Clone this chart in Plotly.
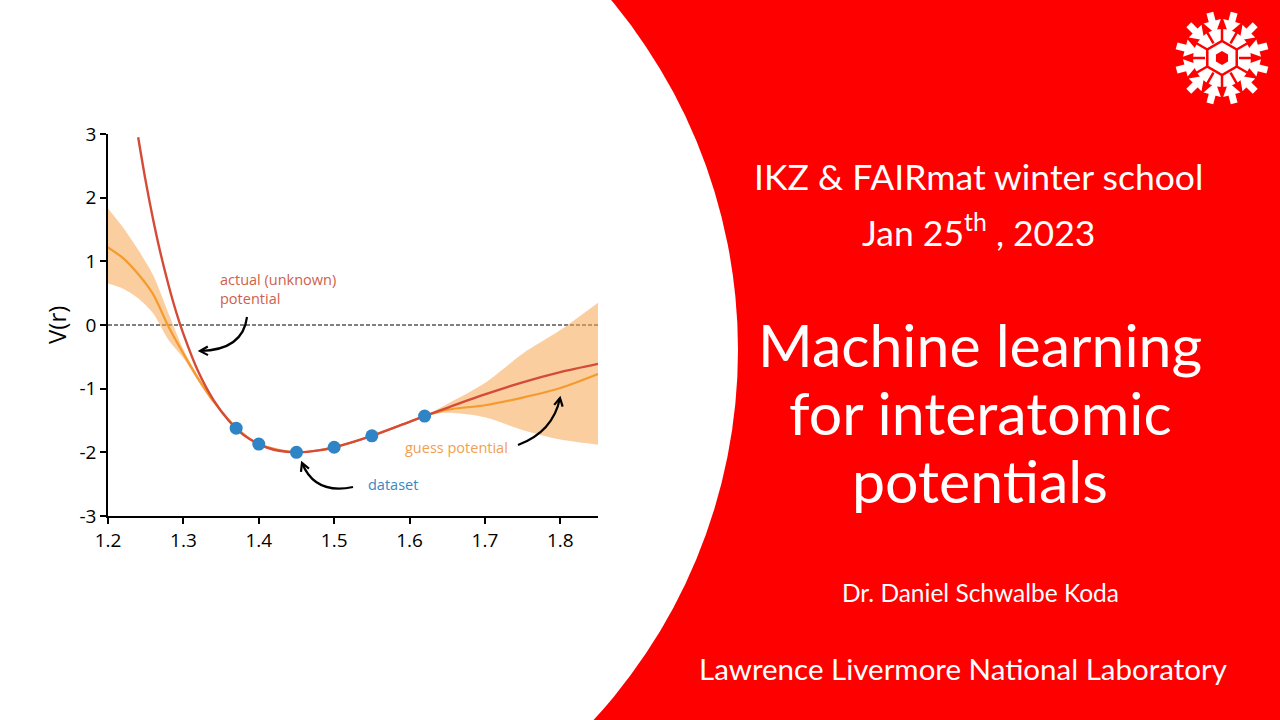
import math
import plotly.graph_objects as go

# ---------------- data ----------------
r_actual = [1.24, 1.25, 1.26, 1.27, 1.28, 1.29, 1.30, 1.32, 1.34, 1.36, 1.38, 1.40,
            1.42, 1.45, 1.48, 1.50, 1.55, 1.60, 1.65, 1.70, 1.75, 1.80, 1.85]
v_actual = [2.95, 2.26, 1.65, 1.11, 0.64, 0.22, -0.14, -0.74, -1.18, -1.50, -1.73, -1.87,
            -1.96, -2.00, -1.97, -1.92, -1.74, -1.52, -1.30, -1.09, -0.90, -0.74, -0.61]

r_guess = [1.20, 1.22, 1.24, 1.26, 1.28, 1.30, 1.32, 1.34, 1.37, 1.40, 1.45, 1.50,
           1.55, 1.60, 1.62, 1.65, 1.70, 1.75, 1.80, 1.85]
v_guess_mean = [1.22, 1.05, 0.80, 0.48, -0.02, -0.45, -0.85, -1.20, -1.61, -1.87, -2.00, -1.92,
                -1.74, -1.52, -1.43, -1.33, -1.26, -1.14, -0.99, -0.77]
v_guess_upper = [1.83, 1.53, 1.18, 0.78, 0.19, -0.38, -0.81, -1.17, -1.60, -1.86, -2.00, -1.92,
                 -1.74, -1.52, -1.43, -1.24, -0.91, -0.45, -0.08, 0.35]
v_guess_lower = [0.65, 0.57, 0.42, 0.18, -0.23, -0.52, -0.89, -1.23, -1.62, -1.88, -2.00, -1.92,
                 -1.74, -1.52, -1.43, -1.38, -1.45, -1.65, -1.80, -1.88]

r_data = [1.37, 1.40, 1.45, 1.50, 1.55, 1.62]
v_data = [-1.62, -1.87, -2.00, -1.92, -1.74, -1.43]

x_ticks = [1.2, 1.3, 1.4, 1.5, 1.6, 1.7, 1.8]
x_tick_labels = ["1.2", "1.3", "1.4", "1.5", "1.6", "1.7", "1.8"]
y_ticks = [-3, -2, -1, 0, 1, 2, 3]
y_tick_labels = ["-3", "-2", "-1", "0", "1", "2", "3"]

header_lines = ["IKZ & FAIRmat winter school", "Jan 25<sup>th</sup> , 2023"]
title_lines = ["Machine learning", "for interatomic", "potentials"]
author = "Dr. Daniel Schwalbe Koda"
institution = "Lawrence Livermore National Laboratory"

# ---------------- styling ----------------
W, H = 1280, 720
RED_BG = "#fe0000"
C_ACTUAL = "#d44b38"
C_GUESS = "#f59a2e"
C_BAND = "rgba(248,165,80,0.55)"
C_DATA = "#2e84c4"
CHART_FONT = "Open Sans"
SLIDE_FONT = "Lato"


def px(x):
    return x / W


def py(y):
    return 1 - y / H


fig = go.Figure()

# uncertainty band
fig.add_trace(go.Scatter(x=r_guess, y=v_guess_upper, mode="lines",
                         line=dict(width=0, shape="spline", smoothing=0.8),
                         hoverinfo="skip", showlegend=False))
fig.add_trace(go.Scatter(x=r_guess, y=v_guess_lower, mode="lines",
                         line=dict(width=0, shape="spline", smoothing=0.8),
                         fill="tonexty", fillcolor=C_BAND,
                         hoverinfo="skip", showlegend=False))
# guess mean
fig.add_trace(go.Scatter(x=r_guess, y=v_guess_mean, mode="lines",
                         line=dict(color=C_GUESS, width=2.2, shape="spline", smoothing=0.8),
                         showlegend=False))
# actual potential
fig.add_trace(go.Scatter(x=r_actual, y=v_actual, mode="lines",
                         line=dict(color=C_ACTUAL, width=2.4, shape="spline", smoothing=0.8),
                         showlegend=False))
# dataset
fig.add_trace(go.Scatter(x=r_data, y=v_data, mode="markers",
                         marker=dict(color=C_DATA, size=13, line=dict(width=0)),
                         showlegend=False))

shapes = []
# red background and white circular region
shapes.append(dict(type="rect", xref="paper", yref="paper", x0=0, x1=1, y0=0, y1=1,
                   fillcolor=RED_BG, line=dict(width=0), layer="below"))
cx, cy, R = 192, 350, 546
shapes.append(dict(type="circle", xref="paper", yref="paper",
                   x0=px(cx - R), x1=px(cx + R), y0=py(cy + R), y1=py(cy - R),
                   fillcolor="white", line=dict(width=0), layer="below"))
# dashed zero line
shapes.append(dict(type="line", xref="x domain", yref="y", x0=0, x1=1, y0=0, y1=0,
                   line=dict(color="black", width=1, dash="4px,2px"), layer="below"))


# curved arrows (pixel coordinates -> paper)
def curved_arrow(p0, c, p1, head=9, spread=0.5):
    d = f"M {px(p0[0])},{py(p0[1])} Q {px(c[0])},{py(c[1])} {px(p1[0])},{py(p1[1])}"
    shapes.append(dict(type="path", xref="paper", yref="paper", path=d,
                       line=dict(color="black", width=2.2), layer="above"))
    ang = math.atan2(p1[1] - c[1], p1[0] - c[0])
    a1 = (p1[0] - head * math.cos(ang - spread), p1[1] - head * math.sin(ang - spread))
    a2 = (p1[0] - head * math.cos(ang + spread), p1[1] - head * math.sin(ang + spread))
    d2 = (f"M {px(a1[0])},{py(a1[1])} L {px(p1[0])},{py(p1[1])} "
          f"L {px(a2[0])},{py(a2[1])}")
    shapes.append(dict(type="path", xref="paper", yref="paper", path=d2,
                       line=dict(color="black", width=2.2), layer="above"))


curved_arrow((247, 317), (243, 350), (200, 351))
curved_arrow((353, 487), (315, 495), (302, 463))
curved_arrow((518, 445), (553, 432), (560, 398))

# snowflake logo
SX, SY = 1222, 58


def polar(r, deg):
    a = math.radians(deg)
    return SX + r * math.cos(a), SY - r * math.sin(a)


def poly_path(pts):
    s = " L ".join(f"{px(x)},{py(y)}" for x, y in pts)
    return "M " + s + " Z"


shapes.append(dict(type="circle", xref="paper", yref="paper",
                   x0=px(SX - 29), x1=px(SX + 29), y0=py(SY + 29), y1=py(SY - 29),
                   fillcolor="white", line=dict(width=0), layer="above"))
for k in range(12):
    ang = 15 + 30 * k
    a = polar(31, ang)
    b = polar(47, ang)
    shapes.append(dict(type="line", xref="paper", yref="paper",
                       x0=px(a[0]), y0=py(a[1]), x1=px(b[0]), y1=py(b[1]),
                       line=dict(color="white", width=7), layer="above"))
    tip = polar(25, ang)
    base = polar(38, ang)
    perp = math.radians(ang + 90)
    h1 = (base[0] + 9 * math.cos(perp), base[1] - 9 * math.sin(perp))
    h2 = (base[0] - 9 * math.cos(perp), base[1] + 9 * math.sin(perp))
    shapes.append(dict(type="path", xref="paper", yref="paper",
                       path=poly_path([tip, h1, h2]), fillcolor="white",
                       line=dict(width=0), layer="above"))
for k in range(12):
    ang = 30 * k
    a = polar(17, ang)
    b = polar(36, ang)
    shapes.append(dict(type="line", xref="paper", yref="paper",
                       x0=px(a[0]), y0=py(a[1]), x1=px(b[0]), y1=py(b[1]),
                       line=dict(color=RED_BG, width=2.5), layer="above"))
shapes.append(dict(type="path", xref="paper", yref="paper",
                   path=poly_path([polar(17, 30 + 60 * k) for k in range(6)]),
                   fillcolor="rgba(0,0,0,0)", line=dict(color=RED_BG, width=2.5), layer="above"))
shapes.append(dict(type="path", xref="paper", yref="paper",
                   path=poly_path([polar(7, 30 + 60 * k) for k in range(6)]),
                   fillcolor=RED_BG, line=dict(width=0), layer="above"))

annotations = []


def text(x, y, s, size, color, font, xanchor="center", angle=0, align="center"):
    annotations.append(dict(x=px(x), y=py(y), xref="paper", yref="paper", text=s,
                            showarrow=False, xanchor=xanchor, yanchor="middle",
                            textangle=angle, align=align,
                            font=dict(size=size, color=color, family=font)))


# chart labels
text(57, 325, "V(r)", 24, "black", CHART_FONT, angle=-90)
text(218, 289, "actual (unknown)<br>potential", 14.5, "#d0604a", CHART_FONT,
     xanchor="left", align="left")
text(403, 447, "guess potential", 14.5, "#f0a050", CHART_FONT, xanchor="left")
text(366, 484, "dataset", 14.5, "#3a86c2", CHART_FONT, xanchor="left")

# slide text
text(978, 176, header_lines[0], 35.5, "white", SLIDE_FONT)
text(978, 230, header_lines[1], 35.5, "white", SLIDE_FONT)
for i, line in enumerate(title_lines):
    text(980, 344 + 68.5 * i, line, 59, "white", SLIDE_FONT)
text(980, 592, author, 24.5, "white", SLIDE_FONT)
text(963, 668, institution, 29.5, "white", SLIDE_FONT)

fig.update_layout(
    width=W, height=H,
    autosize=False,
    margin=dict(l=0, r=0, t=0, b=0, pad=0, autoexpand=False),
    paper_bgcolor="white",
    plot_bgcolor="rgba(0,0,0,0)",
    showlegend=False,
    shapes=shapes,
    annotations=annotations,
    xaxis=dict(domain=[px(108), px(598)], range=[1.2, 1.85], automargin=False,
               tickvals=x_ticks, ticktext=x_tick_labels,
               showgrid=False, zeroline=False,
               showline=True, linecolor="black", linewidth=1.5,
               ticks="outside", ticklen=6, tickwidth=1.5, tickcolor="black",
               tickfont=dict(family=CHART_FONT, size=19, color="black")),
    yaxis=dict(domain=[py(516), py(134)], range=[-3, 3], automargin=False,
               tickvals=y_ticks, ticktext=y_tick_labels,
               showgrid=False, zeroline=False,
               showline=True, linecolor="black", linewidth=1.5,
               ticks="outside", ticklen=6, tickwidth=1.5, tickcolor="black",
               tickfont=dict(family=CHART_FONT, size=19, color="black")),
)

fig.write_html("out.html")
